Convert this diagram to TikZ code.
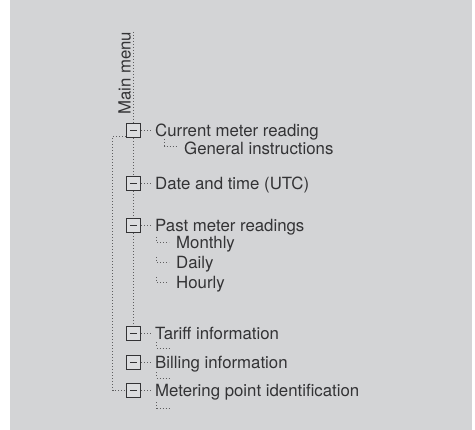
\documentclass[tikz,border=0pt]{standalone}
\usepackage{fontspec}
\setmainfont{TeX Gyre Heros}
\definecolor{bggray}{HTML}{D3D4D6}
\definecolor{boxfill}{HTML}{DCDDDF}
\definecolor{linegray}{HTML}{5E5E60}
\definecolor{txt}{HTML}{333335}
\begin{document}
\begin{tikzpicture}[x=1pt,y=-1pt,
  dotline/.style={draw=linegray,line width=1.1pt,dash pattern=on 1pt off 2pt},
  menubox/.style={draw=txt,fill=boxfill,line width=1.1pt,minimum width=14.5pt,minimum height=14pt,inner sep=0pt,
    path picture={\draw[txt,line width=1.4pt] ([xshift=3.5pt]path picture bounding box.west) -- ([xshift=-3.5pt]path picture bounding box.east);}},
  lbl/.style={anchor=base west,inner sep=0pt,text=txt,font=\fontsize{16.8}{18}\selectfont}
]
\useasboundingbox (0,0) rectangle (475,430);
\fill[bggray] (10,0) rectangle (472,430);

% main menu label and line
\node[lbl,rotate=90] (mm) at (130.5,115) {Main menu};
\coordinate (top) at (133.5,32);

% boxes
\node[menubox] (b1) at (133.5,130.5) {};
\node[menubox] (b2) at (133.5,183.5) {};
\node[menubox] (b3) at (133.5,225.5) {};
\node[menubox] (b4) at (133.5,333.5) {};
\node[menubox] (b5) at (133.5,362.5) {};
\node[menubox] (b6) at (133.5,390.5) {};

% labels
\node[lbl] (t1) at (155,136.5) {Current meter reading};
\node[lbl] (t1a) at (184,154.5) {General instructions};
\node[lbl] (t2) at (155,189.5) {Date and time (UTC)};
\node[lbl] (t3) at (155,231.5) {Past meter readings};
\node[lbl] (t3a) at (176,248.5) {Monthly};
\node[lbl] (t3b) at (176,269) {Daily};
\node[lbl] (t3c) at (176,289) {Hourly};
\node[lbl] (t4) at (155,339.5) {Tariff information};
\node[lbl] (t5) at (155,368.5) {Billing information};
\node[lbl] (t6) at (155,396.5) {Metering point identification};

% trunk
\draw[dotline] (top) -- (b1.north);
\draw[dotline] (b1.south) -- (b2.north);
\draw[dotline] (b2.south) -- (b3.north);
\draw[dotline] (b3.south) -- (b4.north);

% left bracket
\coordinate (l1) at (112.5,136.5);
\coordinate (l2) at (112.5,390.5);
\draw[dotline] (b1.west |- l1) -- (l1) -- (l2) -- (b6.west);

% box to text connectors
\foreach \b/\t in {b1/t1,b2/t2,b3/t3,b4/t4,b5/t5,b6/t6}
  \draw[dotline,shorten >=2.5pt] (\b.east) -- (\b.east -| \t.west);

% sub item connectors
\coordinate (g0) at (164.5,139.5);
\draw[dotline] (g0) -- (164.5,146.5) -- ([xshift=-7pt]t1a.west |- 0,146.5);
\foreach \t/\y in {t3a/242.5,t3b/262.5,t3c/282.5}
  \draw[dotline] (156.5,\y-5.5) -- (156.5,\y) -- ([xshift=-7pt]\t.west |- 0,\y);

% empty sub connectors
\foreach \t/\y in {t4/348.5,t5/378.5,t6/408.5}
  \draw[dotline] (156.5,\y-6) -- (156.5,\y) -- (169,\y);
\end{tikzpicture}
\end{document}
